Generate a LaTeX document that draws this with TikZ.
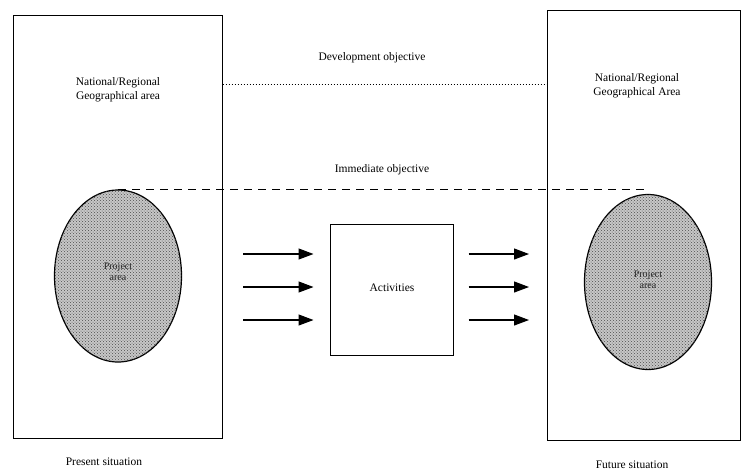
\documentclass[tikz,border=0pt]{standalone}
\usepackage{fontspec}
\setmainfont{Liberation Serif}
\usetikzlibrary{shapes.geometric,arrows.meta,patterns}
\begin{document}
\begin{tikzpicture}[x=1pt,y=-1pt,
  areabox/.style={draw,line width=1pt},
  txt/.style={font=\fontsize{11.5}{14}\selectfont,align=center,inner sep=0pt},
  proj/.style={ellipse,draw,line width=1.2pt,fill=black!22,
     postaction={pattern=crosshatch dots,pattern color=black!70},
     minimum width=#1,inner sep=0pt},
  ptxt/.style={font=\fontsize{10}{11}\selectfont,align=center,text=black!85,inner sep=0pt},
  flow/.style={line width=1.1pt,-{Triangle[length=15pt,width=11pt]}}]
\useasboundingbox (0,0) rectangle (743,472);
% boxes
\node[areabox,minimum width=209pt,minimum height=423pt,inner sep=0pt] (lbox) at (117.5,226.5) {};
\node[areabox,minimum width=193pt,minimum height=430pt,inner sep=0pt] (rbox) at (644,225) {};
\node[txt] (ltxt) at (118,90) {National/Regional\\Geographical area};
\node[txt] (rtxt) at (637,86) {National/Regional\\Geographical Area};
% ellipses
\node[proj=127pt,minimum height=172pt] (lell) at (118,276) {};
\node[ptxt] (ltx) at (118,272) {Project\\area};
\node[proj=127pt,minimum height=175pt] (rell) at (648,282) {};
\node[ptxt] (rtx) at (648,280) {Project\\area};
% activities
\node[draw,line width=1pt,minimum width=123pt,minimum height=131pt] (act) at (391.5,289.5) {};
\node[txt] (acttxt) at (392,288) {Activities};
% objectives
\coordinate (dl) at (lbox.east |- 0,84);
\coordinate (dr) at (rbox.west |- 0,84);
\draw[dotted,line width=1pt] (dl) -- (dr);
\node[txt] (dev) at (372,58) {Development objective};
\coordinate (il) at (lell.north);
\coordinate (ir) at (rell.north |- lell.north);
\draw[dashed,line width=1.3pt,dash pattern=on 8pt off 6pt] (il) -- (ir);
\node[txt] (imm) at (382,170) {Immediate objective};
% arrows
\foreach \y/\n in {254/a,287/b,320/c}{
  \coordinate (la\n) at (243,\y);
  \coordinate (lb\n) at (act.west |- 0,\y);
  \coordinate (ra\n) at (act.east |- 0,\y);
  \coordinate (rb\n) at (529,\y);
}
\draw[flow] (laa) -- ([xshift=-16pt]lba);
\draw[flow] (lab) -- ([xshift=-16pt]lbb);
\draw[flow] (lac) -- ([xshift=-16pt]lbc);
\draw[flow] ([xshift=15pt]raa) -- (rba);
\draw[flow] ([xshift=15pt]rab) -- (rbb);
\draw[flow] ([xshift=15pt]rac) -- (rbc);
% captions
\node[txt] (pres) at (104,462) {Present situation};
\node[txt] (fut) at (632,465) {Future situation};
\end{tikzpicture}
\end{document}
